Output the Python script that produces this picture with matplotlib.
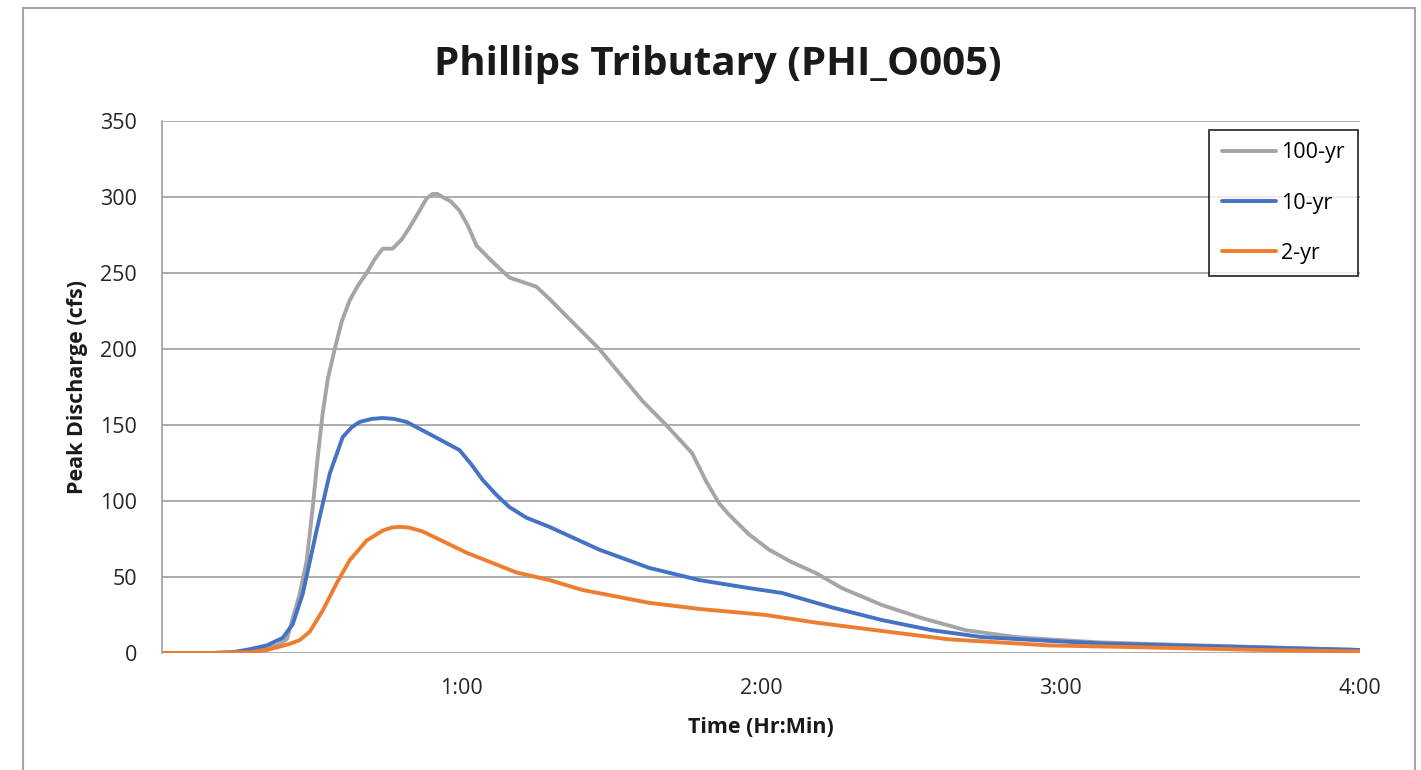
import matplotlib
matplotlib.use("Agg")
import matplotlib.pyplot as plt
from matplotlib.patches import Rectangle

plt.rcParams['font.family'] = ['Open Sans', 'DejaVu Sans']

# time in minutes, discharge in cfs
t_100 = [0, 10, 15, 20, 23, 25, 27.6, 29, 30.2, 31.2, 32.2, 33.2, 34.6, 36, 37.6, 39.3, 41, 42.6, 44.2,
         46.2, 48, 49.6, 51.6, 53, 54.2, 55.2, 56.2, 57.9, 59.6, 61.3, 63, 66, 69.6, 72.3, 75, 77.6,
         87.6, 96.2, 101, 106.2, 109, 111.6, 113.6, 117.6, 121.6, 126, 131, 136.2, 144.2, 152.2, 161,
         171, 177.6, 187.6, 207.6, 240]
q_100 = [0, 0, 0.5, 2.5, 5, 9, 39, 61, 96, 129, 158, 180, 200, 218, 232, 242, 250, 259, 266,
         266, 272, 280, 291, 299, 302, 302, 300, 297, 291, 281, 268, 258, 247, 244, 241, 233,
         200, 166, 150, 131.5, 113, 98.5, 91, 78, 68, 60, 52.6, 42.7, 31.6, 23, 15,
         10.5, 9, 7, 5, 2]

t_10 = [0, 10, 14.2, 17.6, 21, 24.2, 26.2, 28.2, 31, 33.6, 36.2, 38, 39.6, 42, 44.2, 46.5, 49, 54.2,
        59.6, 62, 64.2, 67, 69.6, 73, 77.6, 87.6, 97.6, 107.6, 117.6, 124.2, 134.2, 144.2, 154.2,
        164.2, 177.6, 190, 210, 240]
q_10 = [0, 0, 0.5, 2.5, 5, 10, 19, 39, 81, 118, 142, 148.5, 152, 154, 154.6, 154, 152, 143,
        133.5, 124, 114, 104, 96, 89, 83, 68, 56, 48, 42.7, 39.5, 30, 21.7, 15,
        10.5, 8, 6, 4.5, 2]

t_2 = [0, 10, 15, 17.6, 21, 25.6, 27.6, 29.6, 32.2, 35, 37.6, 41, 44.2, 46, 47.6, 49.5, 52.2, 61,
       71, 77.6, 84.2, 97.6, 107.6, 121, 131, 144.2, 157.6, 177.6, 200, 220, 240]
q_2 = [0, 0, 0.3, 0.5, 2, 6, 8.5, 14, 28, 46, 61, 74, 80.5, 82.5, 83, 82.5, 80, 66,
       53, 48, 41.5, 33, 29, 25, 20, 14.5, 9, 5, 3.5, 2, 1]

series_names = ['100-yr', '10-yr', '2-yr']
colors = ['#A5A5A5', '#4472C4', '#ED7D31']

x_ticks = [60, 120, 180, 240]
x_labels = ['1:00', '2:00', '3:00', '4:00']
y_ticks = list(range(0, 351, 50))

fig = plt.figure(figsize=(14.21, 7.70), dpi=100)
ax = fig.add_axes([162 / 1421, 1 - 653 / 770, (1360 - 162) / 1421, (653 - 121) / 770])

for t, q, name, c in zip([t_100, t_10, t_2], [q_100, q_10, q_2], series_names, colors):
    ax.plot(t, q, color=c, lw=2.8, label=name, solid_joinstyle='round', solid_capstyle='round')

ax.set_xlim(0, 240)
ax.set_ylim(0, 350)
ax.set_xticks(x_ticks)
ax.set_xticklabels(x_labels)
ax.set_yticks(y_ticks)
ax.tick_params(axis='both', length=0, labelsize=15.5, colors='#262626')
ax.tick_params(axis='x', pad=18)
ax.tick_params(axis='y', pad=18)
ax.yaxis.grid(True, color='#A6A6A6', lw=1.3)
ax.set_axisbelow(True)
for s in ['top', 'right', 'bottom']:
    ax.spines[s].set_visible(False)
ax.spines['left'].set_color('#A6A6A6')
ax.spines['left'].set_linewidth(1.3)

ax.set_xlabel('Time (Hr:Min)', fontsize=15.5, fontweight='bold', color='#1a1a1a')
ax.set_ylabel('Peak Discharge (cfs)', fontsize=15.5, fontweight='bold', color='#1a1a1a')
ax.xaxis.set_label_coords(0.5, -(717 - 653) / 532)
ax.yaxis.set_label_coords(-(162 - 88) / 1198, 0.5)

fig.text(718 / 1421, 1 - 64 / 770, 'Phillips Tributary (PHI_O005)', ha='center', va='center',
         fontsize=29, fontweight='bold', color='#1a1a1a')

leg = ax.legend(loc='upper right', bbox_to_anchor=(1.0, 0.988), fontsize=15.5, frameon=True,
                fancybox=False, edgecolor='black', handlelength=2.5, labelspacing=1.35,
                borderpad=0.6, handletextpad=0.25, borderaxespad=0.1)
leg.get_frame().set_linewidth(1.3)

fig.patches.append(Rectangle((23 / 1421, -0.05), (1415 - 23) / 1421, 1.05 - 8 / 770,
                             transform=fig.transFigure, fill=False, edgecolor='#A6A6A6', lw=1.5))

fig.savefig('out.png', dpi=100)
